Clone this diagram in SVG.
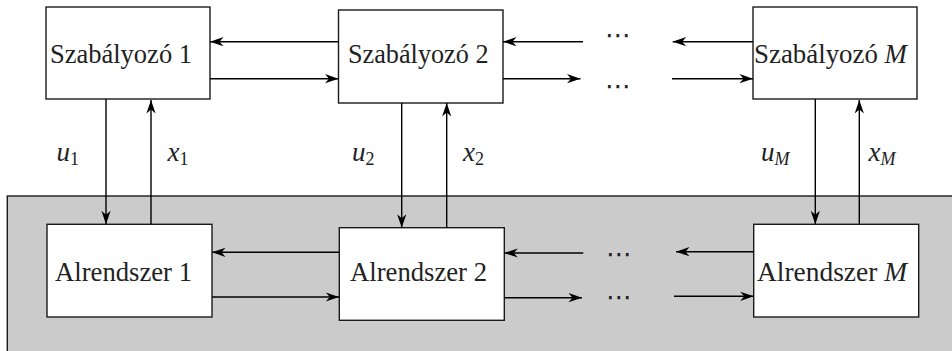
<svg xmlns="http://www.w3.org/2000/svg" width="952" height="351" viewBox="0 0 952 351">
  <style>
    .box { fill: #ffffff; stroke: #1a1a1a; stroke-width: 1.4; }
    .plant { fill: #cbcbcb; stroke: #1a1a1a; stroke-width: 1.4; }
    .wire { fill: none; stroke: #000000; stroke-width: 1.4; }
    .arrow { marker-end: url(#head); }
    .label { font-family: 'Liberation Serif', 'Times New Roman', Tinos, 'DejaVu Serif', 'Noto Serif', serif; font-size: 27px; fill: #222222; }
    .math { font-family: 'Liberation Serif', 'Times New Roman', Tinos, 'DejaVu Serif', 'Noto Serif', serif; font-size: 27px; font-style: italic; fill: #222222; }
    .sub { font-size: 18px; }
    .subup { font-style: normal; }
    .dots { font-family: 'DejaVu Sans', sans-serif; font-size: 26px; fill: #222222; text-anchor: middle; }
  </style>
  <defs>
    <marker id="head" markerUnits="userSpaceOnUse" markerWidth="14" markerHeight="10" viewBox="-14 -5 14 10" refX="0" refY="0" orient="auto">
      <path d="M0,0 L-13.5,-4.6 L-9.5,0 L-13.5,4.6 Z" fill="#000000"/>
    </marker>
  </defs>

  <!-- shaded area holding the subsystems -->
  <rect id="plant" class="plant" x="7.3" y="196" width="960" height="170"/>

  <!-- controllers -->
  <g id="ctrl1">
    <rect class="box" x="46" y="7" width="164" height="92"/>
    <text class="label" x="50" y="62.5" textLength="142" lengthAdjust="spacingAndGlyphs">Szabályozó 1</text>
  </g>
  <g id="ctrl2">
    <rect class="box" x="338.5" y="10" width="164.5" height="93"/>
    <text class="label" x="348" y="62.5" textLength="140.5" lengthAdjust="spacingAndGlyphs">Szabályozó 2</text>
  </g>
  <g id="ctrlM">
    <rect class="box" x="753" y="7" width="164" height="92"/>
    <text class="label" x="754" y="62.5" textLength="153" lengthAdjust="spacingAndGlyphs">Szabályozó <tspan font-style="italic">M</tspan></text>
  </g>

  <!-- subsystems -->
  <g id="sub1">
    <rect class="box" x="47" y="224.3" width="165" height="92.7"/>
    <text class="label" x="55" y="280.7" textLength="137" lengthAdjust="spacingAndGlyphs">Alrendszer 1</text>
  </g>
  <g id="sub2">
    <rect class="box" x="339.3" y="227.7" width="165" height="92.6"/>
    <text class="label" x="350" y="280.7" textLength="137" lengthAdjust="spacingAndGlyphs">Alrendszer 2</text>
  </g>
  <g id="subM">
    <rect class="box" x="753.7" y="224.3" width="165" height="92.7"/>
    <text class="label" x="757" y="280.7" textLength="150" lengthAdjust="spacingAndGlyphs">Alrendszer <tspan font-style="italic">M</tspan></text>
  </g>

  <!-- ellipses between the second and last stage -->
  <g id="gap">
    <text class="dots" x="618" y="44">⋯</text>
    <text class="dots" x="618" y="95">⋯</text>
    <text class="dots" x="619" y="263">⋯</text>
    <text class="dots" x="619" y="305.5">⋯</text>
  </g>

  <!-- signal labels -->
  <g id="signals">
    <text class="math" x="56.5" y="160.5">u<tspan class="sub subup" dy="4">1</tspan></text>
    <text class="math" x="167.5" y="160.5">x<tspan class="sub subup" dy="4">1</tspan></text>
    <text class="math" x="352" y="160.5">u<tspan class="sub subup" dy="4">2</tspan></text>
    <text class="math" x="463" y="160.5">x<tspan class="sub subup" dy="4">2</tspan></text>
    <text class="math" x="761" y="160.5">u<tspan class="sub" dy="4">M</tspan></text>
    <text class="math" x="868.5" y="160.5">x<tspan class="sub" dy="4">M</tspan></text>
  </g>

  <!-- connectors -->
  <g id="connectors">
    <!-- controller layer -->
    <line class="wire arrow" x1="338.5" y1="41.7" x2="210" y2="41.7"/>
    <line class="wire arrow" x1="210" y1="78.7" x2="338.5" y2="78.7"/>
    <line class="wire arrow" x1="583" y1="41.7" x2="503" y2="41.7"/>
    <line class="wire arrow" x1="503" y1="78.7" x2="580.5" y2="78.7"/>
    <line class="wire arrow" x1="753" y1="41.7" x2="672.7" y2="41.7"/>
    <line class="wire arrow" x1="672" y1="78.7" x2="753" y2="78.7"/>

    <!-- control inputs and measured states -->
    <line class="wire arrow" x1="106" y1="99" x2="106" y2="224.3"/>
    <line class="wire arrow" x1="151" y1="224.3" x2="151" y2="100"/>
    <line class="wire arrow" x1="401.7" y1="103" x2="401.7" y2="227.7"/>
    <line class="wire arrow" x1="446.7" y1="227.7" x2="446.7" y2="103"/>
    <line class="wire arrow" x1="815.3" y1="99" x2="815.3" y2="224.3"/>
    <line class="wire arrow" x1="859.3" y1="224.3" x2="859.3" y2="100"/>

    <!-- subsystem layer -->
    <line class="wire arrow" x1="339.3" y1="252.3" x2="212" y2="252.3"/>
    <line class="wire arrow" x1="212" y1="297" x2="339.3" y2="297"/>
    <line class="wire arrow" x1="583.3" y1="253" x2="504.3" y2="253"/>
    <line class="wire arrow" x1="504.3" y1="297.7" x2="582" y2="297.7"/>
    <line class="wire arrow" x1="753.7" y1="251.7" x2="676" y2="251.7"/>
    <line class="wire arrow" x1="674" y1="296.3" x2="753.7" y2="296.3"/>
  </g>
</svg>
